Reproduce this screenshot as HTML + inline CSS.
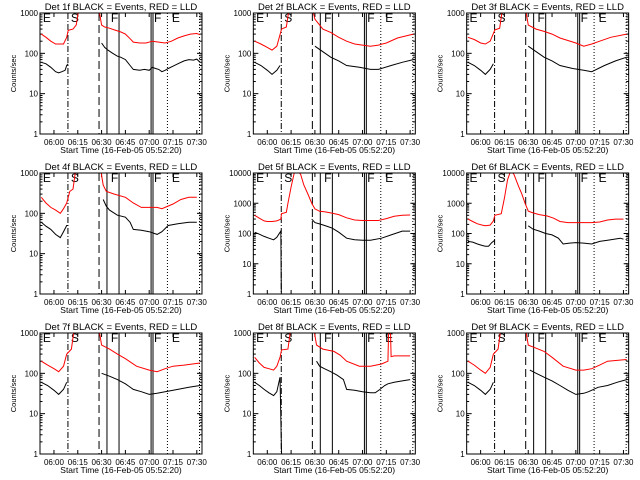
<!DOCTYPE html>
<html><head><meta charset="utf-8"><style>
html,body{margin:0;padding:0;background:#fff;}
svg{display:block;font-family:"Liberation Sans",sans-serif;}
</style></head><body>
<svg id="chart" width="640" height="480" viewBox="0 0 640 480" xmlns="http://www.w3.org/2000/svg"></svg>
<script>
const detNames = ["1f","2f","3f","4f","5f","6f","7f","8f","9f"];
const yMaxes = [1000,1000,1000,1000,10000,10000,1000,1000,1000];
const xTickLabels = ["06:00","06:15","06:30","06:45","07:00","07:15","07:30"];
const markerTimes = ["06:08:48","06:28:24","06:33:24","06:41:00","07:01:12","07:02:24","07:11:30","07:31:42"];
const markerStyles = ["dashdot","dashed","solid","solid","solid","solid","dotted","dotted"];
const phaseLabels = ["E","S","F","F","E"];
const phaseTimes = ["05:53:00","06:10:40","06:35:50","07:03:00","07:14:20"];

const black1T=["05:52","05:55","05:58","06:01","06:03","06:05","06:07","06:08","06:09",null,"06:30","06:32","06:34","06:37","06:40","06:42","06:45","06:48","06:50","06:54","06:57","07:00","07:02","07:04","07:06","07:08","07:10","07:12","07:15","07:18","07:22","07:25","07:28","07:30","07:32"];
const black1V=[60,55,45,35,33,35,38,50,55,null,180,140,120,100,85,80,70,50,40,38,40,38,45,42,40,35,38,42,48,55,65,70,68,72,60];
const red1T=["05:52","05:55","05:58","06:01","06:03","06:06","06:08","06:09","06:10","06:12","06:14","06:16",null,"06:28","06:30","06:32","06:35","06:38","06:42","06:45","06:48","06:50","06:54","06:58","07:02","07:06","07:10","07:14","07:18","07:22","07:26","07:30","07:32"];
const red1V=[300,250,200,170,170,170,250,370,380,400,500,1500,null,1500,500,450,420,380,340,300,230,190,180,180,200,190,180,200,240,270,300,310,290];

const black2T=["05:52","05:56","06:00","06:03","06:06","06:08",null,"06:30","06:35","06:40","06:45","06:50","06:58","07:05","07:10","07:18","07:25","07:32"];
const black2V=[60,50,38,30,38,50,null,150,110,80,65,50,45,40,40,50,60,70];
const red2T=["05:52","05:56","06:00","06:03","06:06","06:09","06:12","06:14",null,"06:28","06:30","06:35","06:40","06:45","06:50","06:55","07:05","07:10","07:15","07:22","07:32"];
const red2V=[200,170,140,120,150,400,450,1500,null,1500,700,400,330,250,200,170,150,160,180,240,300];

const black3T=["05:52","05:56","06:00","06:03","06:06","06:08",null,"06:30","06:35","06:40","06:45","06:50","06:58","07:05","07:10","07:18","07:25","07:32"];
const black3V=[60,50,38,30,40,55,null,150,110,80,65,50,42,38,35,50,65,80];
const red3T=["05:52","05:56","06:00","06:03","06:06","06:09","06:12","06:14",null,"06:28","06:30","06:35","06:40","06:45","06:50","07:00","07:05","07:10","07:15","07:22","07:32"];
const red3V=[250,220,180,170,200,380,420,1500,null,1500,500,400,350,300,240,180,150,170,200,250,300];

const black4T=["05:52","05:55","05:58","06:01","06:04","06:06","06:08","06:09",null,"06:31","06:33","06:35","06:40","06:45","06:48","06:50","06:55","07:00","07:05","07:08","07:12","07:18","07:25","07:30"];
const black4V=[60,48,40,30,25,35,50,50,null,220,150,120,90,80,60,40,38,35,30,35,50,55,60,60];
const red4T=["05:52","05:55","05:58","06:01","06:04","06:06","06:08","06:10","06:12","06:14",null,"06:29","06:31","06:33","06:38","06:45","06:50","06:55","07:00","07:05","07:08","07:15","07:20","07:25","07:30"];
const red4V=[250,180,140,120,100,130,180,350,400,1500,null,1500,500,350,300,250,180,140,140,140,130,170,220,250,250];

const black5T=["05:52","05:55","05:58","06:01","06:04","06:06","06:08:30","06:08:50","06:09",null,"06:28","06:30","06:34","06:38","06:41","06:45","06:50","06:55","07:00","07:05","07:12","07:18","07:25","07:30"];
const black5V=[110,95,80,70,62,75,120,1,1,null,300,230,200,170,150,110,70,62,60,60,70,90,120,120];
const red5T=["05:52","05:55","05:58","06:00","06:03","06:06","06:08:30","06:09","06:12","06:13","06:15","06:17","06:19","06:21","06:23","06:26","06:28","06:30","06:33","06:36","06:40","06:45","06:50","06:55","07:00","07:05","07:10","07:15","07:20","07:25","07:30"];
const red5V=[400,320,260,250,250,260,300,450,500,1000,3500,10000,12000,9000,4000,1800,1000,650,540,520,480,420,330,280,270,270,270,310,370,400,410];

const black6T=["05:52","05:55","05:58","06:01","06:03","06:05","06:07","06:09",null,"06:30","06:33","06:37","06:41","06:45","06:49","06:52","06:56","07:00","07:05","07:10","07:15","07:20","07:28","07:30"];
const black6V=[55,52,45,40,38,38,50,60,null,180,140,120,100,90,70,45,48,50,48,45,55,60,70,65];
const red6T=["05:52","05:55","05:58","06:01","06:03","06:06","06:08","06:09","06:13","06:15","06:17","06:19","06:21","06:24","06:26","06:28","06:30","06:33","06:37","06:42","06:46","06:50","06:55","07:00","07:05","07:10","07:15","07:20","07:25","07:30"];
const red6V=[300,250,210,190,180,190,260,400,450,1500,6000,12000,9000,3500,2000,1000,550,480,420,380,320,250,230,230,230,230,240,280,300,300];

const black7T=["05:52","05:56","06:00","06:03","06:06","06:08",null,"06:30","06:35","06:40","06:45","06:50","06:55","07:00","07:05","07:10","07:18","07:25","07:32"];
const black7V=[60,50,38,30,40,60,null,100,85,70,55,40,35,30,32,35,40,45,50];
const red7T=["05:52","05:56","06:00","06:03","06:06","06:08","06:11","06:13",null,"06:28","06:30","06:35","06:40","06:45","06:52","07:00","07:05","07:10","07:15","07:22","07:32"];
const red7V=[200,160,130,110,150,300,400,1500,null,1500,500,400,300,230,150,120,110,130,150,160,180];

const black8T=["05:52","05:55","05:58","06:01","06:04","06:06","06:08","06:09","06:09:20",null,"06:31","06:33","06:36","06:40","06:44","06:48","06:50","06:55","07:00","07:05","07:08","07:11","07:14","07:16","07:20","07:25","07:30"];
const black8V=[60,50,40,33,28,35,80,1,1,null,200,150,130,110,90,70,40,38,35,33,33,40,50,55,60,65,70];
const red8T=["05:52","05:55","05:58","06:01","06:04","06:06","06:08","06:09","06:13","06:15",null,"06:29","06:31","06:35","06:42","06:46","06:50","06:58","07:05","07:12","07:16","07:16:30","07:17:30","07:18","07:20","07:25","07:30"];
const red8V=[250,180,140,130,120,150,250,380,400,1500,null,1500,500,400,350,280,200,150,150,170,200,1500,1500,260,270,270,270];

const black9T=["05:52","05:56","06:00","06:03","06:06","06:08",null,"06:31","06:35","06:40","06:45","06:50","06:55","07:00","07:05","07:08","07:14","07:20","07:26","07:32"];
const black9V=[60,50,38,30,40,60,null,120,100,80,65,50,38,30,32,35,45,50,60,70];
const red9T=["05:52","05:56","06:00","06:03","06:06","06:08","06:11","06:13",null,"06:28","06:30","06:35","06:40","06:45","06:52","07:00","07:05","07:10","07:15","07:20","07:32"];
const red9V=[200,160,120,100,140,300,400,1500,null,1500,500,420,350,250,150,120,120,130,160,200,220];

const blackTs=[black1T,black2T,black3T,black4T,black5T,black6T,black7T,black8T,black9T];
const blackVs=[black1V,black2V,black3V,black4V,black5V,black6V,black7V,black8V,black9V];
const redTs=[red1T,red2T,red3T,red4T,red5T,red6T,red7T,red8T,red9T];
const redVs=[red1V,red2V,red3V,red4V,red5V,red6V,red7V,red8V,red9V];

const NS="http://www.w3.org/2000/svg";
const svg=document.getElementById('chart');
const PL=40,PR=202,PT=13,PB=134;
const TMIN=-8.8, PXPM=1.587;
function toMin(s){const p=s.split(':').map(Number);return (p[0]-6)*60+p[1]+(p[2]||0)/60;}
function xScale(s){return PL+(toMin(s)-TMIN)*PXPM;}
function yScale(v,ymax){const dec=Math.log10(ymax);return PB-(Math.log10(v)/dec)*(PB-PT);}
function mk(tag,attrs,parent){const e=document.createElementNS(NS,tag);for(const k in attrs)e.setAttribute(k,attrs[k]);parent.appendChild(e);return e;}

const dashMap={solid:"",dashed:"8,4",dotted:"1,2",dashdot:"6,2,1,2"};

for(let i=0;i<9;i++){
  const col=i%3,row=Math.floor(i/3);
  const g=mk('g',{transform:`translate(${(col*213.33).toFixed(2)},${row*160})`},svg);
  
  
  const ymax=yMaxes[i];
  const cid='clip'+i;
  const cp=mk('clipPath',{id:cid},g);
  mk('rect',{x:PL,y:PT,width:PR-PL,height:PB-PT},cp);

  const title=mk('text',{x:(PL+PR)/2,y:10,'text-anchor':'middle','font-size':'9.5'},g);
  title.textContent=`Det ${detNames[i]} BLACK = Events, RED = LLD`;
  
  

  const xt=mk('text',{x:(PL+PR)/2,y:153,'text-anchor':'middle','font-size':'8.5'},g);
  xt.textContent='Start Time (16-Feb-05 05:52:20)';
  
  

  const yt=mk('text',{x:0,y:0,transform:`translate(16,${(PT+PB)/2}) rotate(-90)`,'text-anchor':'middle','font-size':'7.5'},g);
  yt.textContent='Counts/sec';
  
  

  const dec=Math.round(Math.log10(ymax));
  for(let d=0;d<=dec;d++){
    const v=Math.pow(10,d),y=yScale(v,ymax);
    mk('line',{x1:PL,x2:PL+5,y1:y,y2:y,stroke:'#000'},g);
    mk('line',{x1:PR,x2:PR-5,y1:y,y2:y,stroke:'#000'},g);
    const lb=mk('text',{x:PL-2,y:y+3,'text-anchor':'end','font-size':'8'},g);
    lb.textContent=String(v);
    
    
    if(d<dec){for(let m=2;m<=9;m++){const ym=yScale(v*m,ymax);
      mk('line',{x1:PL,x2:PL+2.5,y1:ym,y2:ym,stroke:'#000'},g);
      mk('line',{x1:PR,x2:PR-2.5,y1:ym,y2:ym,stroke:'#000'},g);}}
  }
  xTickLabels.forEach(s=>{
    const x=xScale(s);
    mk('line',{x1:x,x2:x,y1:PB,y2:PB-4,stroke:'#000'},g);
    mk('line',{x1:x,x2:x,y1:PT,y2:PT+4,stroke:'#000'},g);
    const lb=mk('text',{x:x,y:145,'text-anchor':'middle','font-size':'8'},g);
    lb.textContent=s;
    
    
  });
  markerTimes.forEach((s,k)=>{
    const x=xScale(s);
    const ln=mk('line',{x1:x,x2:x,y1:PT,y2:PB,stroke:'#000','stroke-width':1,'stroke-dasharray':dashMap[markerStyles[k]]},g);
    
    
  });
  phaseLabels.forEach((L,k)=>{
    const t=mk('text',{x:xScale(phaseTimes[k]),y:PT+9,'font-size':'12'},g);
    t.textContent=L;
    
    
  });
  function series(T,V,color,name){
    let d='',pen=false;
    for(let k=0;k<T.length;k++){
      if(T[k]===null||V[k]===null){pen=false;continue;}
      const x=xScale(T[k]).toFixed(1),y=yScale(V[k],ymax).toFixed(1);
      d+=(pen?'L':'M')+x+','+y;pen=true;
    }
    const p=mk('path',{d:d,fill:'none',stroke:color,'stroke-width':1,'clip-path':`url(#${cid})`},g);
    
    
  }
  series(redTs[i],redVs[i],'#ff0000','lld-series-red');
  series(blackTs[i],blackVs[i],'#000000','events-series-black');
  const box=mk('rect',{x:PL,y:PT,width:PR-PL,height:PB-PT,fill:'none',stroke:'#000'},g);
  
  
}
</script>
</body></html>
